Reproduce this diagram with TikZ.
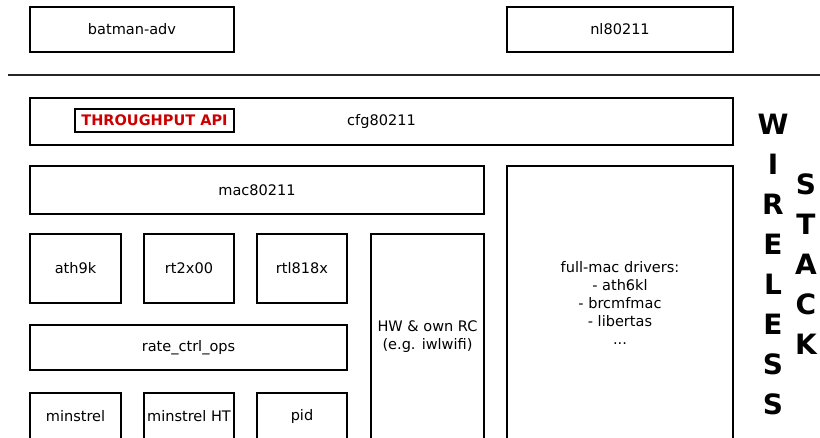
\documentclass[tikz,border=0pt]{standalone}
\usepackage{fontspec}
\setmainfont{DejaVu Sans}
\definecolor{apired}{HTML}{CC0000}
\tikzset{
  box/.style={draw=black, line width=1.8pt, inner sep=0pt, align=center,
    font=\fontsize{10.9}{13.5}\selectfont},
  apibox/.style={box, text=apired, font=\fontsize{10.9}{13.5}\selectfont\bfseries},
  lbl/.style={inner sep=0pt, align=center, font=\fontsize{10.9}{13.5}\selectfont},
  stackword/.style={align=center, inner sep=0pt,
    font=\fontsize{21}{30}\selectfont\bfseries},
  % size of a box in pixel units: width, height
  px/.style 2 args={minimum width=#1*0.75pt, minimum height=#2*0.75pt},
}
\begin{document}
\begin{tikzpicture}[x=0.75pt, y=-0.75pt]
  \useasboundingbox (0,0) rectangle (820,438);
  \clip (0,0) rectangle (820,438);
  \fill[white] (0,0) rectangle (820,438);

  % user space
  \node[box, px={204}{45}] (batman) at (132,29.5) {batman-adv};
  \node[box, px={226}{45}] (nl) at (620,29.5) {nl80211};

  % user / kernel separator
  \coordinate (sepL) at (8,75);
  \coordinate (sepR) at (822,75);
  \draw[line width=1.6pt, black!85] (sepL) -- (sepR);

  % cfg80211 layer
  \node[box, px={703}{47}] (cfg) at (381.5,121.5) {cfg80211};
  \node[apibox, px={159}{23}] (api) at (154.5,120.5) {THROUGHPUT API};

  % mac80211 and soft-mac drivers
  \node[box, px={454}{48}] (mac) at (257,190) {mac80211};
  \node[box, px={91}{69}] (ath9k) at (75.5,268.5) {ath9k};
  \node[box, px={90}{69}] (rt2x00) at (189,268.5) {rt2x00};
  \node[box, px={90}{69}] (rtl) at (302,268.5) {rtl818x};
  \node[box, px={113}{206}] (hwrc) at (427.5,337) {HW \& own RC\\(e.g. iwlwifi)};

  % rate control
  \node[box, px={317}{45}] (rc) at (188.5,347.5) {rate\_ctrl\_ops};
  \node[box, px={91}{57}] (minstrel) at (75.5,421.5) {};
  \node[box, px={90}{57}] (minstrelht) at (189,421.5) {};
  \node[box, px={90}{57}] (pid) at (302,421.5) {};
  \node[lbl] (minstrelT) at (75.5,416) {minstrel};
  \node[lbl] (minstrelhtT) at (189,416) {minstrel HT};
  \node[lbl] (pidT) at (302,416) {pid};

  % full-mac drivers
  \node[box, px={226}{274}] (fullmac) at (620,303)
    {full-mac drivers:\\- ath6kl\\- brcmfmac\\- libertas\\...};

  % side title
  \node[stackword] (wireless) at (773,264.5) {W\\I\\R\\E\\L\\E\\S\\S};
  \node[stackword] (stack) at (806,264.5) {S\\T\\A\\C\\K};
\end{tikzpicture}
\end{document}
